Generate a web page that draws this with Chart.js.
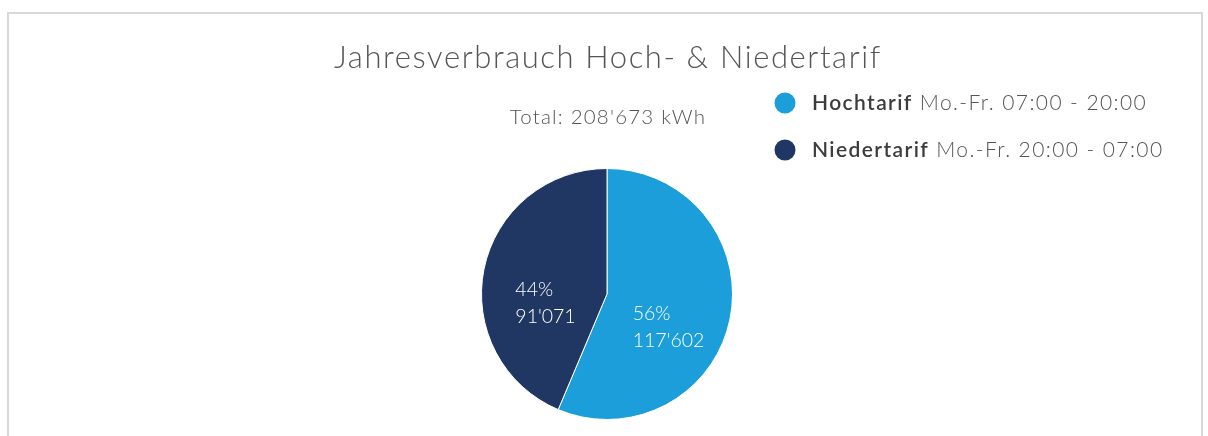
<!DOCTYPE html>
<html>
<head>
<meta charset="utf-8">
<script src="https://cdn.jsdelivr.net/npm/chart.js@4/dist/chart.umd.min.js"></script>
<style>
  html, body { margin: 0; padding: 0; background: #fff; }
  .wrap { position: relative; width: 1208px; height: 436px; overflow: hidden; }
  .frame {
    position: absolute; left: 7px; top: 12px; width: 1196px; height: 460px;
    border: 2px solid #d8d8d8; border-bottom: none; box-sizing: border-box;
  }
  canvas { position: absolute; left: 0; top: 0; }
</style>
</head>
<body>
<div class="wrap">
  <div class="frame"></div>
  <canvas id="pie" width="1208" height="436"></canvas>
</div>
<script>
const tariffs = ['Hochtarif', 'Niedertarif'];
const periods = ['Mo.-Fr. 07:00 - 20:00', 'Mo.-Fr. 20:00 - 07:00'];
const consumption = [117602, 91071];
const sliceColors = ['#1b9ed9', '#1f3762'];

const FONT = 'Lato, "Open Sans", sans-serif';
const total = consumption.reduce((a, b) => a + b, 0);

const fmt = (n) => String(n).replace(/\B(?=(\d{3})+(?!\d))/g, "'");

// title, total, legend and slice labels all drawn on top of the pie
const overlay = {
  id: 'overlay',
  afterDraw(chart) {
    const { ctx } = chart;
    const meta = chart.getDatasetMeta(0);
    ctx.save();

    ctx.fillStyle = '#555';
    ctx.textAlign = 'center';
    ctx.textBaseline = 'alphabetic';
    ctx.font = `300 31px ${FONT}`;
    ctx.letterSpacing = '1.6px';
    ctx.fillText('Jahresverbrauch Hoch- & Niedertarif', 608, 68);

    ctx.font = `300 20.5px ${FONT}`;
    ctx.letterSpacing = '1.2px';
    ctx.fillText(`Total: ${fmt(total)} kWh`, 608, 124);

    // legend
    ctx.textAlign = 'left';
    ctx.letterSpacing = '1.4px';
    tariffs.forEach((name, i) => {
      const y = 103 + i * 47;
      ctx.fillStyle = sliceColors[i];
      ctx.beginPath();
      ctx.arc(785, y, 10.5, 0, Math.PI * 2);
      ctx.fill();
      ctx.textBaseline = 'middle';
      ctx.font = `600 21px ${FONT}`;
      ctx.fillStyle = '#3c3c3c';
      ctx.fillText(name, 812, y);
      const w = ctx.measureText(name).width;
      ctx.font = `300 21px ${FONT}`;
      ctx.fillStyle = '#555';
      ctx.fillText(' ' + periods[i], 812 + w, y);
    });

    // slice labels
    ctx.fillStyle = '#fff';
    ctx.font = `300 19.5px ${FONT}`;
    ctx.letterSpacing = '0px';
    ctx.textBaseline = 'top';
    meta.data.forEach((arc, i) => {
      const p = arc.tooltipPosition();
      const l1 = Math.round(consumption[i] / total * 100) + '%';
      const l2 = fmt(consumption[i]);
      const bw = Math.max(ctx.measureText(l1).width, ctx.measureText(l2).width);
      const x = p.x - bw / 2;
      ctx.fillText(l1, x, p.y - 2);
      ctx.fillText(l2, x, p.y + 25);
    });

    ctx.restore();
  }
};

new Chart(document.getElementById('pie'), {
  type: 'pie',
  data: {
    labels: tariffs,
    datasets: [{
      data: consumption,
      backgroundColor: sliceColors,
      borderColor: '#ffffff',
      borderWidth: 1
    }]
  },
  options: {
    responsive: false,
    animation: false,
    layout: { padding: { left: 481, right: 475, top: 168, bottom: 16 } },
    plugins: {
      legend: { display: false },
      tooltip: { enabled: false },
      title: { display: false }
    }
  },
  plugins: [overlay]
});
</script>
</body>
</html>
